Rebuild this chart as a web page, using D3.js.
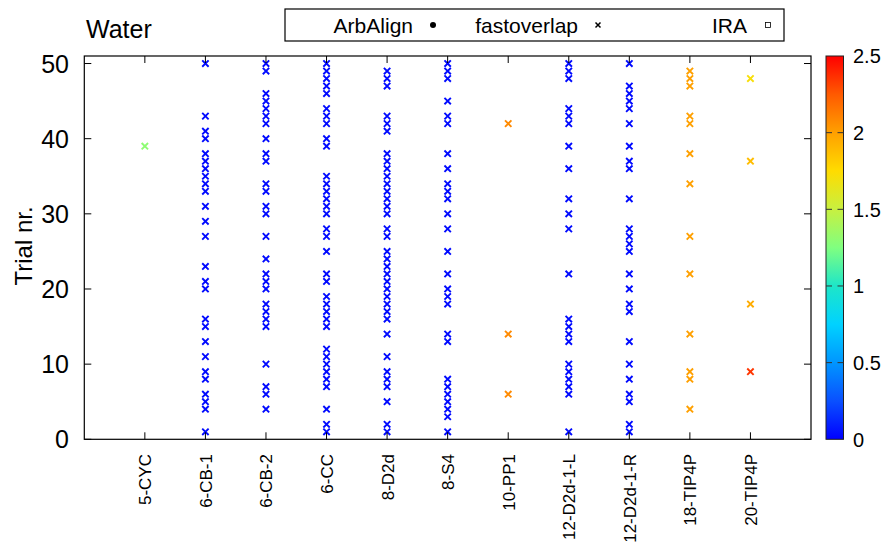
<!DOCTYPE html>
<html><head><meta charset="utf-8">
<script src="https://cdn.jsdelivr.net/npm/d3@7"></script>
<style>body{margin:0;background:#fff}svg{display:block}text{font-family:"Liberation Sans",Arial,sans-serif}</style>
</head><body><svg id="c" width="886" height="545"></svg>
<script>
const categories = ["5-CYC","6-CB-1","6-CB-2","6-CC","8-D2d","8-S4","10-PP1","12-D2d-1-L","12-D2d-1-R","18-TIP4P","20-TIP4P"];
// trial numbers found per system (fastoverlap)
const trials = [
  [39],
  [50,43,41,40,38,37,36,35,34,33,31,29,27,23,21,20,16,15,13,11,9,8,6,5,4,1],
  [50,49,46,45,44,43,42,40,38,37,34,33,31,30,27,24,22,21,20,18,17,16,15,10,7,6,4],
  [50,49,48,47,46,44,43,42,40,39,35,34,33,32,31,30,28,27,25,22,21,19,18,17,16,15,12,11,10,9,8,7,4,2,1],
  [49,48,47,43,42,41,38,37,36,35,34,33,32,31,30,28,27,25,24,23,22,21,20,19,18,17,16,14,11,9,8,7,5,2,1],
  [50,49,48,45,43,42,38,36,34,33,32,30,28,25,22,20,19,18,14,13,8,7,6,5,4,3,1],
  [42,14,6],
  [50,49,48,44,43,42,39,36,32,30,28,22,16,15,14,13,10,9,8,7,6,1],
  [50,47,46,45,44,42,39,37,36,32,28,27,26,25,22,20,18,17,13,10,8,6,5,2,1],
  [49,48,47,43,42,38,34,27,22,14,9,8,4],
  [48,37,18,9]
];
// RMSD (colour) per point; dense blue columns share one low value
const blueRmsd = 0.03;
const rmsdSparse = {
  "5-CYC":[1.3],
  "10-PP1":[2.08,2.08,2.08],
  "18-TIP4P":[2.0,2.0,2.0,2.0,2.0,2.0,2.0,2.0,2.0,2.0,2.0,2.0,2.0],
  "20-TIP4P":[1.72,1.88,1.95,2.35]
};
const yTicks = [0,10,20,30,40,50];
const cbTicks = [0,0.5,1,1.5,2,2.5];
const paletteStops = [0,0.25,0.5,0.75,1,1.25,1.5,1.75,2,2.25,2.5];
const paletteColors = ["#0000ff","#0a50ff","#0096ff","#00d2ff","#1ee6c8","#80ff80","#c8f040","#ffdc00","#ffa000","#ff5a00","#ff0000"];

const svg = d3.select("#c");
const L=84.3,R=811,T=56,B=439.3;
const x = d3.scaleLinear().domain([0,12]).range([L,R]);
const y = d3.scaleLinear().domain([0,51]).range([B,T]);
const color = d3.scaleLinear().domain(paletteStops).range(paletteColors).interpolate(d3.interpolateRgb).clamp(true);

// points
const pts=[];
categories.forEach((c,i)=>{
  trials[i].forEach((t,j)=>{
    const v = rmsdSparse[c] ? rmsdSparse[c][j] : blueRmsd;
    pts.push({cx:x(i+1),cy:y(t),v});
  });
});
const s=3.2;
svg.append("g").selectAll("path").data(pts).join("path")
  .attr("d",d=>`M${d.cx-s},${d.cy-s}L${d.cx+s},${d.cy+s}M${d.cx-s},${d.cy+s}L${d.cx+s},${d.cy-s}`)
  .attr("stroke",d=>color(d.v)).attr("stroke-width",1.9).attr("fill","none");

// frame
svg.append("rect").attr("x",L).attr("y",T).attr("width",R-L).attr("height",B-T)
  .attr("fill","none").attr("stroke","#000").attr("stroke-width",1.2);

// y ticks
const gy = svg.append("g");
yTicks.forEach(t=>{
  gy.append("line").attr("x1",L).attr("x2",L+7).attr("y1",y(t)).attr("y2",y(t)).attr("stroke","#000");
  gy.append("line").attr("x1",R-7).attr("x2",R).attr("y1",y(t)).attr("y2",y(t)).attr("stroke","#000");
  gy.append("text").attr("x",69).attr("y",y(t)).attr("dy","0.36em").attr("text-anchor","end")
    .attr("font-size",25).text(t);
});
// x ticks
const gx = svg.append("g");
categories.forEach((c,i)=>{
  const px=x(i+1);
  gx.append("line").attr("x1",px).attr("x2",px).attr("y1",B).attr("y2",B-7).attr("stroke","#000");
  gx.append("line").attr("x1",px).attr("x2",px).attr("y1",T).attr("y2",T+7).attr("stroke","#000");
  gx.append("text").attr("transform",`translate(${px+6.5},454) rotate(-90)`).attr("text-anchor","end")
    .attr("font-size",17).text(c);
});

// axis label and title
svg.append("text").attr("transform","translate(32,246) rotate(-90)").attr("text-anchor","middle")
  .attr("font-size",24).text("Trial nr.");
svg.append("text").attr("x",86).attr("y",38).attr("font-size",25).text("Water");

// legend
svg.append("rect").attr("x",285).attr("y",9).attr("width",499).attr("height",32)
  .attr("fill","#fff").attr("stroke","#000").attr("stroke-width",1.2);
const leg=[{t:"ArbAlign",tx:413,mx:433,m:"dot"},{t:"fastoverlap",tx:578,mx:598,m:"x"},{t:"IRA",tx:747,mx:768,m:"sq"}];
leg.forEach(d=>{
  svg.append("text").attr("x",d.tx).attr("y",25).attr("dy","0.36em").attr("text-anchor","end").attr("font-size",21).text(d.t);
  if(d.m==="dot") svg.append("circle").attr("cx",d.mx).attr("cy",25).attr("r",3).attr("fill","#000");
  if(d.m==="x") svg.append("path").attr("d",`M${d.mx-2.5},${22.5}L${d.mx+2.5},${27.5}M${d.mx-2.5},${27.5}L${d.mx+2.5},${22.5}`).attr("stroke","#000").attr("stroke-width",1.5);
  if(d.m==="sq") svg.append("rect").attr("x",d.mx-2.5).attr("y",22.5).attr("width",5).attr("height",5).attr("fill","none").attr("stroke","#000").attr("stroke-width",0.8);
});

// colour bar
const cbL=826,cbW=17.5;
const cy = d3.scaleLinear().domain([0,2.5]).range([B,T]);
const defs=svg.append("defs");
const grad=defs.append("linearGradient").attr("id","g").attr("x1",0).attr("y1",1).attr("x2",0).attr("y2",0);
paletteStops.forEach((p,i)=>grad.append("stop").attr("offset",p/2.5).attr("stop-color",paletteColors[i]));
svg.append("rect").attr("x",cbL).attr("y",T).attr("width",cbW).attr("height",B-T).attr("fill","url(#g)")
  .attr("stroke","#222").attr("stroke-width",1);
cbTicks.forEach(t=>{
  if(t>0 && t<2.5){
    svg.append("line").attr("x1",cbL).attr("x2",cbL+6).attr("y1",cy(t)).attr("y2",cy(t)).attr("stroke","#333");
    svg.append("line").attr("x1",cbL+cbW-6).attr("x2",cbL+cbW).attr("y1",cy(t)).attr("y2",cy(t)).attr("stroke","#333");
  }
  svg.append("text").attr("x",853).attr("y",cy(t)).attr("dy","0.36em").attr("font-size",20).text(t);
});
</script></body></html>
